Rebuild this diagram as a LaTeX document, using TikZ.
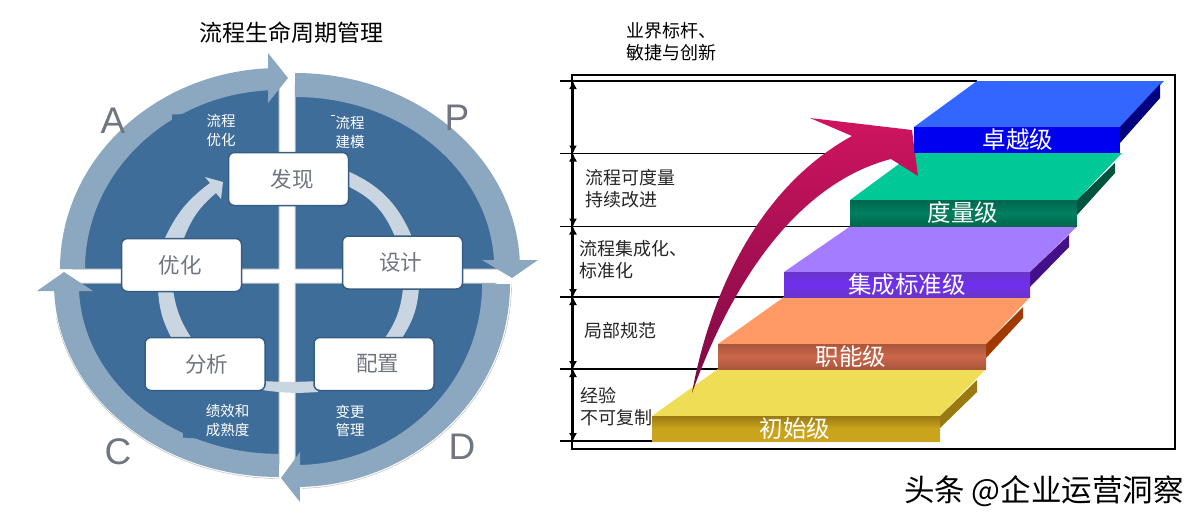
\documentclass[tikz,border=0pt]{standalone}
\usepackage{fontspec}
\setmainfont{Noto Sans CJK SC}
\newfontfamily\latinfont{Liberation Sans}
\usepackage{xcolor}
\usetikzlibrary{arrows.meta}
\definecolor{quadblue}{HTML}{3F6D99}
\definecolor{ringblue}{HTML}{8CA8C1}
\definecolor{paleblue}{HTML}{C9D6E2}
\definecolor{boxgray}{HTML}{70757F}
\definecolor{yellowtop}{HTML}{EEDD55}
\definecolor{yellowside}{HTML}{9A7A10}
\definecolor{yellowdark}{HTML}{9A7A14}
\definecolor{yellowfront}{HTML}{C9A41C}
\definecolor{orangetop}{HTML}{FF9966}
\definecolor{orangeside}{HTML}{A03A00}
\definecolor{orangedark}{HTML}{A8573C}
\definecolor{orangefront}{HTML}{CC664A}
\definecolor{purpletop}{HTML}{A47CFF}
\definecolor{purpleside}{HTML}{43108A}
\definecolor{purpledark}{HTML}{6A35C8}
\definecolor{purplefront}{HTML}{7030F0}
\definecolor{greentop}{HTML}{00C896}
\definecolor{greenside}{HTML}{00533F}
\definecolor{greendark}{HTML}{00664C}
\definecolor{greenfront}{HTML}{008060}
\definecolor{bluetop}{HTML}{3366FF}
\definecolor{blueside}{HTML}{000080}
\definecolor{bluefront}{HTML}{0000F0}
\definecolor{arrowtop}{HTML}{D0145F}
\definecolor{arrowbottom}{HTML}{7A0A44}
\tikzset{
  phasebox/.style={draw=quadblue!85!black, line width=1.5pt, fill=white, rounded corners=6pt, minimum width=120pt, minimum height=53pt, inner sep=0pt, text=boxgray, font=\fontsize{21.5}{24}\selectfont},
  quadlabel/.style={text=white, inner sep=0pt, align=center, font=\fontsize{14.5}{18.5}\selectfont},
  pdcaletter/.style={text=boxgray, inner sep=0pt, font=\latinfont\fontsize{37}{40}\selectfont},
  sidetext/.style={text=black!85, inner sep=0pt, anchor=west, align=left, font=\fontsize{18}{22}\selectfont},
  levellabel/.style={text=white, inner sep=0pt, font=\fontsize{23.5}{26}\selectfont},
  quadfill/.style={fill=quadblue, draw=black!18, line width=1pt},
  levelline/.style={black, line width=1.3pt},
  spanarrow/.style={black, line width=1.2pt, {Latex[length=8pt,width=8pt]}-{Latex[length=8pt,width=8pt]}}
}

\begin{document}
\begin{tikzpicture}[x=1pt,y=-1pt]
    \useasboundingbox (0,0) rectangle (1200,522);

    % quadrants
    \draw[quadfill](279,269)--(73,269) arc[start angle=180, end angle=90, x radius=206pt, y radius=190pt]--cycle;
    \draw[quadfill](295,269)--(507,269) arc[start angle=0, end angle=90, x radius=212pt, y radius=184pt]--cycle;
    \draw[quadfill](295,283)--(496,283) arc[start angle=0, end angle=-90, x radius=201pt, y radius=192pt]--cycle;
    \draw[quadfill](279,283)--(67,283) arc[start angle=180, end angle=270, x radius=212pt, y radius=181pt]--cycle;

    % outer ring
    \draw[black!30](511.5,284) arc[start angle=0, end angle=-88, x radius=216.5pt, y radius=204.5pt];
    \draw[black!30](279.5,478.5) arc[start angle=270, end angle=190, x radius=226.5pt, y radius=194.5pt];
    \fill[ringblue](60,269) arc[start angle=180, end angle=92.88, x radius=219pt, y radius=201pt]--(268,53)--(288,78)--(268,103)--(268,90.3) arc[start angle=93.25, end angle=180, x radius=194pt, y radius=179pt]--cycle;
    \fill[ringblue](295,73) arc[start angle=90, end angle=2.6, x radius=225pt, y radius=196pt]--(538,260)--(512,278)--(482,260)--(494,260) arc[start angle=3, end angle=90, x radius=199pt, y radius=172pt]--cycle;
    \fill[ringblue](510,284) arc[start angle=0, end angle=-88.7, x radius=215pt, y radius=203pt]--(300,502)--(281,478)--(300,452)--(300,465) arc[start angle=-88.5, end angle=0, x radius=187pt, y radius=181pt]--cycle;
    \fill[ringblue](279,477) arc[start angle=270, end angle=182.1, x radius=225pt, y radius=193pt]--(37,291)--(64,272)--(93,291)--(79,291) arc[start angle=182.4, end angle=270, x radius=200pt, y radius=170pt]--cycle;
    \fill[quadblue](172,122)--(172,114.5)--(188,114)--(188,122)--cycle;
    \fill[quadblue](183,429)--(183,437.5)--(197,438.5)--(197,429)--cycle;

    % inner ring
    \fill[paleblue](165,238) to[bend left=14] (210,183)--(205,177)--(223,182)--(221,199)--(216,193) to[bend right=14] (184,238)--cycle;
    \fill[paleblue](345,170) to[bend left=22] (412,237)--(395,237) to[bend right=22] (345,185)--cycle;
    \fill[paleblue](403,288) to[bend left=14] (385,338)--(402,338) to[bend right=14] (419,288)--cycle;
    \fill[paleblue](262,381) to[bend right=3] (318,381)--(318,392) to[bend left=6] (262,390)--cycle;
    \fill[paleblue](158,290) to[bend right=12] (172,339)--(192,339) to[bend left=12] (173,290)--cycle;

    \node[phasebox](found) at (288.5,179){\hspace*{7pt}发现};
    \node[phasebox](design) at (402.5,262.5){设计\hspace*{4pt}};
    \node[phasebox](deploy) at (374,364){\hspace*{7pt}配置};
    \node[phasebox](analyse) at (205,364){\hspace*{3pt}分析};
    \node[phasebox](improve) at (181.5,265){优化\hspace*{3pt}};

    \node[quadlabel](optlab) at (221,130.5){流程\\优化};
    \node[quadlabel](modlab) at (350,132.5){流程\\建模};
    \node[quadlabel](perflab) at (227.5,420.5){绩效和\\成熟度};
    \node[quadlabel](changelab) at (350,421){变更\\管理};
    \draw[white](331,115)--(335,115);

    \node[pdcaletter](letterA) at (113,121){A};
    \node[pdcaletter](letterP) at (457,118){P};
    \node[pdcaletter](letterC) at (118,452){C};
    \node[pdcaletter](letterD) at (462,447){D};

    \node[inner sep=0pt, font=\fontsize{23}{26}\selectfont](maintitle) at (291,33){流程生命周期管理};
    \node[sidetext, text=black](benchmark) at (626,42){业界标杆、\\敏捷与创新};

    % frame and level lines
    \coordinate(lv0) at (573,81);
    \coordinate(lv1) at (573,153.5);
    \coordinate(lv2) at (573,226.5);
    \coordinate(lv3) at (573,297);
    \coordinate(lv4) at (573,369);
    \coordinate(lv5) at (573,441);
    \draw[black, line width=1.3pt, fill=white](572,75) rectangle (1175,449);
    \draw[levelline](560,81)--(977,81);
    \draw[levelline](560,153.5)--(915,153.5);
    \draw[levelline](560,226.5)--(850,226.5);
    \draw[levelline](560,297)--(784,297);
    \draw[levelline](560,369)--(718,369);
    \draw[levelline](560,441)--(652,441);
    \draw[spanarrow, line width=2pt](lv0)--(lv1);
    \draw[spanarrow](lv1)--(lv2);
    \draw[spanarrow](lv2)--(lv3);
    \draw[spanarrow](lv3)--(lv4);
    \draw[spanarrow](lv4)--(lv5);

    \node[sidetext](textA) at (585,189){流程可度量\\持续改进};
    \node[sidetext](textB) at (579,260){流程集成化、\\标准化};
    \node[sidetext](textC) at (584,331){局部规范};
    \node[sidetext](textD) at (580,407){经验\\不可复制};

    % initial level
    \fill[yellowtop](652,416)--(718,369)--(986,369)--(940,416)--cycle;
    \fill[yellowside](940,416)--(977,380)--(977,392)--(940,428)--cycle;
    \shade[top color=yellowdark, bottom color=yellowfront, middle color=yellowfront](652,416) rectangle (940,441);
    \node[levellabel](level1) at (795,429){初始级};

    % functional level
    \fill[orangetop](718,344)--(784,297)--(1030,297)--(986,344)--cycle;
    \fill[orangeside](986,344)--(1023,307)--(1023,318)--(986,358)--cycle;
    \shade[top color=orangedark, bottom color=orangedark, middle color=orangefront](718,344) rectangle (986,369);
    \node[levellabel](level2) at (851,357){职能级};

    % integrated level
    \fill[purpletop](784,272)--(850,226.5)--(1077,226.5)--(1030,272)--cycle;
    \fill[purpleside](1030,272)--(1069,235)--(1069,247)--(1030,287)--cycle;
    \shade[top color=purpledark, bottom color=purpledark, middle color=purplefront](784,272) rectangle (1030,297);
    \node[levellabel](level3) at (907,285){集成标准级};

    % measured level
    \fill[greentop](850,200)--(914,153)--(1122,153)--(1077,200)--cycle;
    \fill[greenside](1077,200)--(1115,163)--(1115,173)--(1077,215)--cycle;
    \shade[top color=greendark, bottom color=greendark, middle color=greenfront](850,200) rectangle (1077,226);
    \node[levellabel](level4) at (963,213){度量级};

    % rising arrow
    \shade[top color=arrowtop, middle color=arrowtop!92!black, bottom color=arrowbottom](692,393) .. controls (705,320) and (745,195) .. (852,136)--(810,118)--(912,130)--(918,176)--(891,159) .. controls (810,180) and (740,260) .. (692,393)--cycle;

    % top level
    \fill[bluetop](914,127)--(977,81)--(1164,81)--(1122,127)--cycle;
    \fill[blueside](1120,127)--(1160,84)--(1160,98)--(1120,143)--cycle;
    \fill[bluefront](914,127) rectangle (1120,153);
    \node[levellabel](level5) at (1018,140){卓越级};

    \node[inner sep=0pt, font=\fontsize{30.5}{33}\selectfont](watermark) at (1044,491){头条 @企业运营洞察};
\end{tikzpicture}
\end{document}
